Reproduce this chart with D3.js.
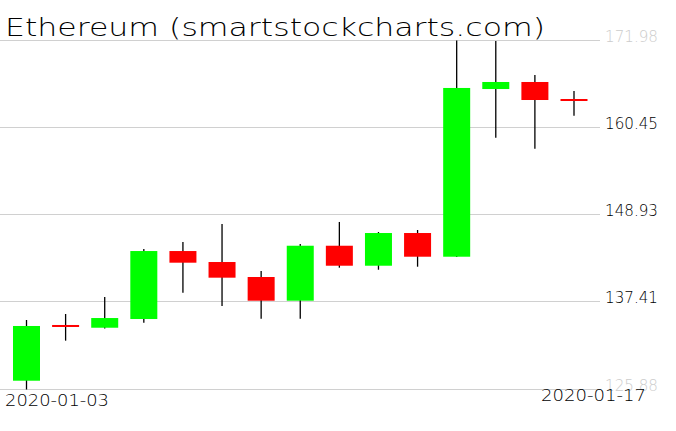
<!DOCTYPE html>
<html><head><meta charset="utf-8">
<script src="https://cdn.jsdelivr.net/npm/d3@7/dist/d3.min.js"></script>
<style>html,body{margin:0;padding:0;background:#fff;}svg{display:block;}</style>
</head><body>
<svg id="chart" width="676" height="431"></svg>
<script>
const title = "Ethereum (smartstockcharts.com)";
const dates = ["2020-01-03","2020-01-04","2020-01-05","2020-01-06","2020-01-07","2020-01-08","2020-01-09","2020-01-10","2020-01-11","2020-01-12","2020-01-13","2020-01-14","2020-01-15","2020-01-16","2020-01-17"];
const opens  = [127.04,134.27,134.04,135.19,144.17,142.72,140.74,137.61,144.87,142.23,146.55,143.42,165.57,166.50,164.12];
const highs  = [135.06,135.85,138.10,144.44,145.36,147.74,141.53,145.10,148.01,146.68,146.95,171.98,171.90,167.42,165.31];
const lows   = [125.88,132.33,133.95,134.70,138.67,136.91,135.23,135.23,141.97,141.70,142.10,143.38,159.14,157.69,162.05];
const closes = [134.27,134.12,135.32,144.17,142.63,140.65,137.61,144.87,142.23,146.55,143.42,165.71,166.50,164.12,164.02];
const yTicks = [125.88,137.41,148.93,160.45,171.98];
const xLabels = ["2020-01-03","2020-01-17"];

const svg = d3.select("#chart");
const x = d3.scalePoint().domain(dates).range([26.5, 574]);
const y = d3.scaleLinear().domain([125.88, 171.98]).range([389.5, 40.5]);
const bodyW = 27;
const font = "'DejaVu Sans', sans-serif";

// gridlines
svg.append("g").selectAll("line").data(yTicks).join("line")
  .attr("x1", 0).attr("x2", 600)
  .attr("y1", d => Math.round(y(d)) + 0.5 - 1).attr("y2", d => Math.round(y(d)) + 0.5 - 1)
  .attr("stroke", "#d0d0d0").attr("stroke-width", 1);

// y tick labels
svg.append("g").selectAll("text").data(yTicks).join("text")
  .attr("x", 605).attr("y", d => y(d) + 1)
  .attr("font-family", font).attr("font-weight", 200).attr("font-size", 15)
  .attr("textLength", 53).attr("lengthAdjust", "spacingAndGlyphs")
  .attr("fill", (d, i) => (i === 0 || i === yTicks.length - 1) ? "#cccccc" : "#000")
  .text(d => d.toFixed(2));

const data = dates.map((d, i) => ({d, o: opens[i], h: highs[i], l: lows[i], c: closes[i]}));
const g = svg.append("g");
// wicks
g.selectAll("line.w").data(data).join("line").attr("class", "w")
  .attr("x1", d => x(d.d)).attr("x2", d => x(d.d))
  .attr("y1", d => y(d.h)).attr("y2", d => y(d.l))
  .attr("stroke", "#000").attr("stroke-width", 1.3);
// bodies
g.selectAll("rect").data(data).join("rect")
  .attr("x", d => x(d.d) - bodyW / 2)
  .attr("width", bodyW)
  .attr("y", d => Math.min(y(d.o), y(d.c)) - (Math.abs(y(d.o) - y(d.c)) < 2 ? 1 : 0))
  .attr("height", d => Math.max(2, Math.abs(y(d.o) - y(d.c))))
  .attr("fill", d => d.c >= d.o ? "#00ff00" : "#ff0000");

// title
svg.append("text").attr("x", 5).attr("y", 36)
  .attr("font-family", font).attr("font-weight", 200).attr("font-size", 25)
  .attr("textLength", 540).attr("lengthAdjust", "spacingAndGlyphs")
  .attr("fill", "#000").text(title);

// x labels
svg.append("text").attr("x", 5).attr("y", 406)
  .attr("font-family", font).attr("font-weight", 200).attr("font-size", 15)
  .attr("textLength", 104).attr("lengthAdjust", "spacingAndGlyphs")
  .attr("fill", "#000").text(xLabels[0]);
svg.append("text").attr("x", 541).attr("y", 401)
  .attr("font-family", font).attr("font-weight", 200).attr("font-size", 15)
  .attr("textLength", 105).attr("lengthAdjust", "spacingAndGlyphs")
  .attr("fill", "#000").text(xLabels[1]);
</script>
</body></html>
